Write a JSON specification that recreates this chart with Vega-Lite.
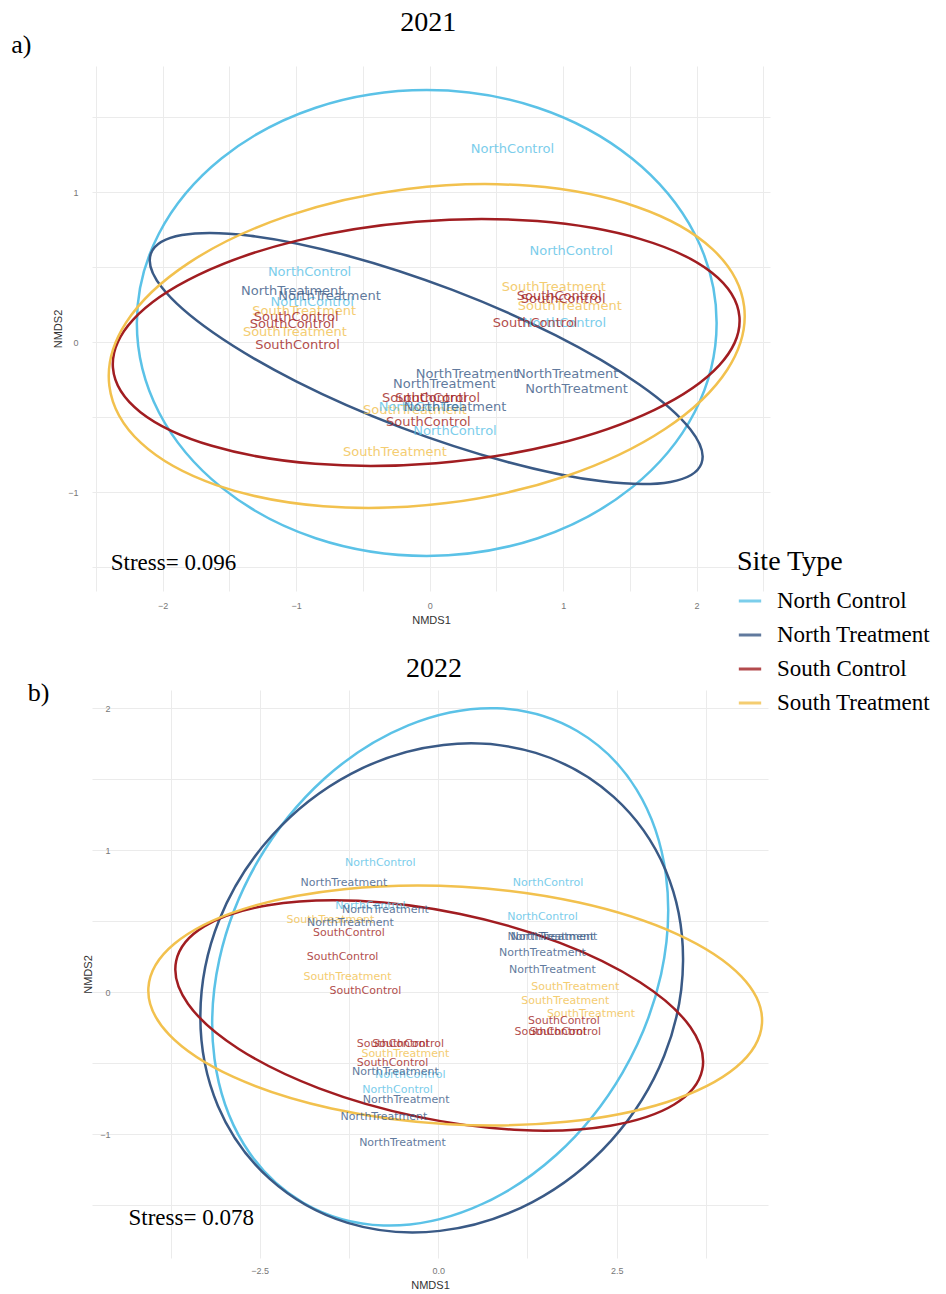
{
"$schema": "https://vega.github.io/schema/vega-lite/v6.json",
"padding": {"left": 11, "top": 8, "right": 0, "bottom": 0},
"bounds": "flush",
"spacing": 99,
"config": {
  "view": {"stroke": null},
  "axis": {"gridColor": "#EBEBEB", "gridWidth": 1, "ticks": false, "domain": false, "labelColor": "#777777", "labelFontSize": 9, "labelFont": "Liberation Sans", "titleFont": "Liberation Sans", "titleFontSize": 11, "titleFontWeight": "normal", "titleColor": "#333333"}
},
"datasets": {
  "ell2021": [
    {"site":"North Control","o":0,"x":2.150,"y":0.127},{"site":"North Control","o":1,"x":1.985,"y":0.722},{"site":"North Control","o":2,"x":1.514,"y":1.225},{"site":"North Control","o":3,"x":0.810,"y":1.562},{"site":"North Control","o":4,"x":-0.022,"y":1.680},{"site":"North Control","o":5,"x":-0.854,"y":1.562},{"site":"North Control","o":6,"x":-1.558,"y":1.225},{"site":"North Control","o":7,"x":-2.029,"y":0.722},{"site":"North Control","o":8,"x":-2.194,"y":0.127},{"site":"North Control","o":9,"x":-2.029,"y":-0.468},{"site":"North Control","o":10,"x":-1.558,"y":-0.971},{"site":"North Control","o":11,"x":-0.854,"y":-1.308},{"site":"North Control","o":12,"x":-0.022,"y":-1.426},{"site":"North Control","o":13,"x":0.810,"y":-1.308},{"site":"North Control","o":14,"x":1.514,"y":-0.971},{"site":"North Control","o":15,"x":1.985,"y":-0.468},
    {"site":"North Treatment","o":0,"x":2.036,"y":-0.811},{"site":"North Treatment","o":1,"x":1.954,"y":-0.583},{"site":"North Treatment","o":2,"x":1.571,"y":-0.283},{"site":"North Treatment","o":3,"x":0.945,"y":0.044},{"site":"North Treatment","o":4,"x":0.170,"y":0.347},{"site":"North Treatment","o":5,"x":-0.635,"y":0.580},{"site":"North Treatment","o":6,"x":-1.345,"y":0.709},{"site":"North Treatment","o":7,"x":-1.856,"y":0.713},{"site":"North Treatment","o":8,"x":-2.088,"y":0.591},{"site":"North Treatment","o":9,"x":-2.006,"y":0.363},{"site":"North Treatment","o":10,"x":-1.623,"y":0.063},{"site":"North Treatment","o":11,"x":-0.997,"y":-0.264},{"site":"North Treatment","o":12,"x":-0.222,"y":-0.567},{"site":"North Treatment","o":13,"x":0.583,"y":-0.800},{"site":"North Treatment","o":14,"x":1.293,"y":-0.929},{"site":"North Treatment","o":15,"x":1.804,"y":-0.933},
    {"site":"South Control","o":0,"x":2.321,"y":0.167},{"site":"South Control","o":1,"x":2.115,"y":0.462},{"site":"South Control","o":2,"x":1.581,"y":0.686},{"site":"South Control","o":3,"x":0.805,"y":0.806},{"site":"South Control","o":4,"x":-0.100,"y":0.802},{"site":"South Control","o":5,"x":-0.993,"y":0.676},{"site":"South Control","o":6,"x":-1.737,"y":0.446},{"site":"South Control","o":7,"x":-2.223,"y":0.148},{"site":"South Control","o":8,"x":-2.373,"y":-0.173},{"site":"South Control","o":9,"x":-2.167,"y":-0.468},{"site":"South Control","o":10,"x":-1.633,"y":-0.692},{"site":"South Control","o":11,"x":-0.857,"y":-0.812},{"site":"South Control","o":12,"x":0.048,"y":-0.808},{"site":"South Control","o":13,"x":0.941,"y":-0.682},{"site":"South Control","o":14,"x":1.685,"y":-0.452},{"site":"South Control","o":15,"x":2.171,"y":-0.154},
    {"site":"South Treatment","o":0,"x":2.356,"y":0.238},{"site":"South Treatment","o":1,"x":2.119,"y":0.619},{"site":"South Treatment","o":2,"x":1.555,"y":0.900},{"site":"South Treatment","o":3,"x":0.753,"y":1.041},{"site":"South Treatment","o":4,"x":-0.169,"y":1.020},{"site":"South Treatment","o":5,"x":-1.069,"y":0.839},{"site":"South Treatment","o":6,"x":-1.807,"y":0.526},{"site":"South Treatment","o":7,"x":-2.275,"y":0.129},{"site":"South Treatment","o":8,"x":-2.400,"y":-0.292},{"site":"South Treatment","o":9,"x":-2.163,"y":-0.673},{"site":"South Treatment","o":10,"x":-1.599,"y":-0.954},{"site":"South Treatment","o":11,"x":-0.797,"y":-1.095},{"site":"South Treatment","o":12,"x":0.125,"y":-1.074},{"site":"South Treatment","o":13,"x":1.025,"y":-0.893},{"site":"South Treatment","o":14,"x":1.763,"y":-0.580},{"site":"South Treatment","o":15,"x":2.231,"y":-0.183}
  ],
  "lab2021": [
    {"site":"South Treatment","label":"SouthTreatment","x":-0.94,"y":0.21},{"site":"South Treatment","label":"SouthTreatment","x":-1.01,"y":0.07},{"site":"South Treatment","label":"SouthTreatment","x":0.93,"y":0.37},{"site":"South Treatment","label":"SouthTreatment","x":1.05,"y":0.24},{"site":"South Treatment","label":"SouthTreatment","x":-0.11,"y":-0.45},{"site":"South Treatment","label":"SouthTreatment","x":-0.26,"y":-0.73},
    {"site":"North Control","label":"NorthControl","x":0.62,"y":1.29},{"site":"North Control","label":"NorthControl","x":1.06,"y":0.61},{"site":"North Control","label":"NorthControl","x":-0.90,"y":0.47},{"site":"North Control","label":"NorthControl","x":-0.88,"y":0.27},{"site":"North Control","label":"NorthControl","x":1.01,"y":0.13},{"site":"North Control","label":"NorthControl","x":-0.07,"y":-0.43},{"site":"North Control","label":"NorthControl","x":0.19,"y":-0.59},
    {"site":"North Treatment","label":"NorthTreatment","x":-1.03,"y":0.34},{"site":"North Treatment","label":"NorthTreatment","x":-0.75,"y":0.31},{"site":"North Treatment","label":"NorthTreatment","x":0.28,"y":-0.21},{"site":"North Treatment","label":"NorthTreatment","x":1.03,"y":-0.21},{"site":"North Treatment","label":"NorthTreatment","x":0.11,"y":-0.28},{"site":"North Treatment","label":"NorthTreatment","x":1.10,"y":-0.31},{"site":"North Treatment","label":"NorthTreatment","x":0.19,"y":-0.43},
    {"site":"South Control","label":"SouthControl","x":-1.00,"y":0.17},{"site":"South Control","label":"SouthControl","x":-1.03,"y":0.12},{"site":"South Control","label":"SouthControl","x":-0.99,"y":-0.02},{"site":"South Control","label":"SouthControl","x":0.97,"y":0.31},{"site":"South Control","label":"SouthControl","x":1.00,"y":0.29},{"site":"South Control","label":"SouthControl","x":0.79,"y":0.13},{"site":"South Control","label":"SouthControl","x":-0.04,"y":-0.37},{"site":"South Control","label":"SouthControl","x":0.06,"y":-0.37},{"site":"South Control","label":"SouthControl","x":-0.01,"y":-0.53}
  ],
  "ell2022": [
    {"site":"North Control","o":0,"x":1.947,"y":1.841},{"site":"North Control","o":1,"x":2.779,"y":1.429},{"site":"North Control","o":2,"x":3.190,"y":0.827},{"site":"North Control","o":3,"x":3.122,"y":0.127},{"site":"North Control","o":4,"x":2.581,"y":-0.566},{"site":"North Control","o":5,"x":1.652,"y":-1.145},{"site":"North Control","o":6,"x":0.476,"y":-1.521},{"site":"North Control","o":7,"x":-0.767,"y":-1.641},{"site":"North Control","o":8,"x":-1.891,"y":-1.481},{"site":"North Control","o":9,"x":-2.723,"y":-1.069},{"site":"North Control","o":10,"x":-3.134,"y":-0.467},{"site":"North Control","o":11,"x":-3.066,"y":0.233},{"site":"North Control","o":12,"x":-2.525,"y":0.926},{"site":"North Control","o":13,"x":-1.596,"y":1.505},{"site":"North Control","o":14,"x":-0.420,"y":1.881},{"site":"North Control","o":15,"x":0.823,"y":2.001},
    {"site":"North Treatment","o":0,"x":2.458,"y":1.377},{"site":"North Treatment","o":1,"x":3.184,"y":0.863},{"site":"North Treatment","o":2,"x":3.430,"y":0.223},{"site":"North Treatment","o":3,"x":3.166,"y":-0.446},{"site":"North Treatment","o":4,"x":2.423,"y":-1.043},{"site":"North Treatment","o":5,"x":1.320,"y":-1.476},{"site":"North Treatment","o":6,"x":0.024,"y":-1.679},{"site":"North Treatment","o":7,"x":-1.268,"y":-1.623},{"site":"North Treatment","o":8,"x":-2.360,"y":-1.313},{"site":"North Treatment","o":9,"x":-3.086,"y":-0.799},{"site":"North Treatment","o":10,"x":-3.332,"y":-0.159},{"site":"North Treatment","o":11,"x":-3.068,"y":0.510},{"site":"North Treatment","o":12,"x":-2.325,"y":1.107},{"site":"North Treatment","o":13,"x":-1.222,"y":1.540},{"site":"North Treatment","o":14,"x":0.074,"y":1.743},{"site":"North Treatment","o":15,"x":1.366,"y":1.687},
    {"site":"South Control","o":0,"x":3.699,"y":-0.545},{"site":"South Control","o":1,"x":3.532,"y":-0.243},{"site":"South Control","o":2,"x":2.827,"y":0.072},{"site":"South Control","o":3,"x":1.697,"y":0.351},{"site":"South Control","o":4,"x":0.308,"y":0.552},{"site":"South Control","o":5,"x":-1.125,"y":0.645},{"site":"South Control","o":6,"x":-2.383,"y":0.614},{"site":"South Control","o":7,"x":-3.278,"y":0.465},{"site":"South Control","o":8,"x":-3.671,"y":0.221},{"site":"South Control","o":9,"x":-3.504,"y":-0.081},{"site":"South Control","o":10,"x":-2.799,"y":-0.396},{"site":"South Control","o":11,"x":-1.669,"y":-0.675},{"site":"South Control","o":12,"x":-0.280,"y":-0.876},{"site":"South Control","o":13,"x":1.153,"y":-0.969},{"site":"South Control","o":14,"x":2.411,"y":-0.938},{"site":"South Control","o":15,"x":3.306,"y":-0.789},
    {"site":"South Treatment","o":0,"x":4.536,"y":-0.216},{"site":"South Treatment","o":1,"x":4.246,"y":0.113},{"site":"South Treatment","o":2,"x":3.345,"y":0.411},{"site":"South Treatment","o":3,"x":1.972,"y":0.633},{"site":"South Treatment","o":4,"x":0.334,"y":0.744},{"site":"South Treatment","o":5,"x":-1.320,"y":0.727},{"site":"South Treatment","o":6,"x":-2.733,"y":0.587},{"site":"South Treatment","o":7,"x":-3.696,"y":0.343},{"site":"South Treatment","o":8,"x":-4.060,"y":0.032},{"site":"South Treatment","o":9,"x":-3.770,"y":-0.297},{"site":"South Treatment","o":10,"x":-2.869,"y":-0.595},{"site":"South Treatment","o":11,"x":-1.496,"y":-0.817},{"site":"South Treatment","o":12,"x":0.143,"y":-0.928},{"site":"South Treatment","o":13,"x":1.796,"y":-0.911},{"site":"South Treatment","o":14,"x":3.209,"y":-0.771},{"site":"South Treatment","o":15,"x":4.172,"y":-0.527}
  ],
  "lab2022": [
    {"site":"South Treatment","label":"SouthTreatment","x":-1.51,"y":0.51},{"site":"South Treatment","label":"SouthTreatment","x":-1.27,"y":0.11},{"site":"South Treatment","label":"SouthTreatment","x":1.92,"y":0.04},{"site":"South Treatment","label":"SouthTreatment","x":1.78,"y":-0.06},{"site":"South Treatment","label":"SouthTreatment","x":2.14,"y":-0.15},{"site":"South Treatment","label":"SouthTreatment","x":-0.46,"y":-0.43},
    {"site":"North Control","label":"NorthControl","x":-0.81,"y":0.91},{"site":"North Control","label":"NorthControl","x":1.54,"y":0.77},{"site":"North Control","label":"NorthControl","x":1.46,"y":0.53},{"site":"North Control","label":"NorthControl","x":-0.95,"y":0.61},{"site":"North Control","label":"NorthControl","x":-0.39,"y":-0.58},{"site":"North Control","label":"NorthControl","x":-0.57,"y":-0.69},
    {"site":"North Treatment","label":"NorthTreatment","x":-1.32,"y":0.77},{"site":"North Treatment","label":"NorthTreatment","x":-0.74,"y":0.58},{"site":"North Treatment","label":"NorthTreatment","x":-1.23,"y":0.49},{"site":"North Treatment","label":"NorthTreatment","x":1.62,"y":0.39},{"site":"North Treatment","label":"NorthTreatment","x":1.58,"y":0.39},{"site":"North Treatment","label":"NorthTreatment","x":1.46,"y":0.28},{"site":"North Treatment","label":"NorthTreatment","x":1.60,"y":0.16},{"site":"North Treatment","label":"NorthTreatment","x":-0.60,"y":-0.56},{"site":"North Treatment","label":"NorthTreatment","x":-0.45,"y":-0.76},{"site":"North Treatment","label":"NorthTreatment","x":-0.76,"y":-0.88},{"site":"North Treatment","label":"NorthTreatment","x":-0.50,"y":-1.06},
    {"site":"South Control","label":"SouthControl","x":-1.25,"y":0.42},{"site":"South Control","label":"SouthControl","x":-1.34,"y":0.25},{"site":"South Control","label":"SouthControl","x":-1.02,"y":0.01},{"site":"South Control","label":"SouthControl","x":1.76,"y":-0.20},{"site":"South Control","label":"SouthControl","x":1.57,"y":-0.28},{"site":"South Control","label":"SouthControl","x":1.78,"y":-0.28},{"site":"South Control","label":"SouthControl","x":-0.64,"y":-0.36},{"site":"South Control","label":"SouthControl","x":-0.42,"y":-0.36},{"site":"South Control","label":"SouthControl","x":-0.64,"y":-0.50}
  ]
},
"vconcat": [
  {
    "width": 678, "height": 525,
    "encoding": {
      "x": {"field": "x", "type": "quantitative", "scale": {"domain": [-2.53, 2.55], "nice": false, "zero": false},
            "axis": {"title": "NMDS1", "values": [-2.5,-2,-1.5,-1,-0.5,0,0.5,1,1.5,2,2.5], "labelExpr": "datum.value % 1 == 0 ? format(datum.value, 'd') : ''", "labelPadding": 10, "titlePadding": 4}},
      "y": {"field": "y", "type": "quantitative", "scale": {"domain": [-1.66, 1.84], "nice": false, "zero": false},
            "axis": {"title": "NMDS2", "values": [-1.5,-1,-0.5,0,0.5,1,1.5], "labelExpr": "datum.value % 1 == 0 ? format(datum.value, 'd') : ''", "labelPadding": 14, "titlePadding": 4}}
    },
    "layer": [
      {
        "data": {"name": "ell2021"},
        "mark": {"type": "line", "interpolate": "cardinal-closed", "strokeWidth": 2.5},
        "encoding": {
          "color": {"field": "site", "type": "nominal",
            "scale": {"domain": ["North Control","North Treatment","South Control","South Treatment"], "range": ["#5BC2E7","#3A5A86","#A11D21","#F2C14E"]},
            "legend": {"title": "Site Type", "orient": "none", "legendX": 645, "legendY": 482, "symbolType": "stroke", "symbolSize": 500, "symbolStrokeWidth": 3, "titleFont": "Liberation Serif", "titleFontSize": 28, "titleFontWeight": "normal", "titleColor": "#000000", "labelFont": "Liberation Serif", "labelFontSize": 23, "labelColor": "#000000", "rowPadding": 9, "titlePadding": 12, "labelOffset": 14}},
          "order": {"field": "o", "type": "quantitative"}
        }
      },
      {
        "data": {"name": "lab2021"},
        "mark": {"type": "text", "font": "DejaVu Sans", "fontSize": 13, "opacity": 0.8},
        "encoding": {
          "color": {"field": "site", "type": "nominal", "scale": {"domain": ["North Control","North Treatment","South Control","South Treatment"], "range": ["#5BC2E7","#3A5A86","#A11D21","#F2C14E"]}},
          "text": {"field": "label"}
        }
      },
      {
        "data": {"values": [{"x": -1.92, "y": -1.47, "t": "Stress= 0.096"}]},
        "mark": {"type": "text", "font": "Liberation Serif", "fontSize": 23, "color": "#000000"},
        "encoding": {"text": {"field": "t"}}
      },
      {
        "data": {"values": [{"x": -3.06, "y": 1.98, "t": "a)"}]},
        "mark": {"type": "text", "font": "Liberation Serif", "fontSize": 26, "color": "#000000"},
        "encoding": {"text": {"field": "t"}}
      },
      {
        "data": {"values": [{"x": -0.01, "y": 2.127, "t": "2021"}]},
        "mark": {"type": "text", "font": "Liberation Serif", "fontSize": 28, "color": "#000000"},
        "encoding": {"text": {"field": "t"}}
      }
    ]
  },
  {
    "width": 676, "height": 568,
    "encoding": {
      "x": {"field": "x", "type": "quantitative", "scale": {"domain": [-4.85, 4.62], "nice": false, "zero": false},
            "axis": {"title": "NMDS1", "values": [-3.75,-2.5,-1.25,0,1.25,2.5,3.75], "labelExpr": "datum.value == 0 ? '0.0' : (abs(datum.value) == 2.5 ? format(datum.value, '.1f') : '')", "labelPadding": 8, "titlePadding": 4}},
      "y": {"field": "y", "type": "quantitative", "scale": {"domain": [-1.87, 2.13], "nice": false, "zero": false},
            "axis": {"title": "NMDS2", "values": [-1.5,-1,-0.5,0,0.5,1,1.5,2], "labelExpr": "datum.value % 1 == 0 ? format(datum.value, 'd') : ''", "labelPadding": 4, "titlePadding": 6, "offset": -22}}
    },
    "layer": [
      {
        "data": {"name": "ell2022"},
        "mark": {"type": "line", "interpolate": "cardinal-closed", "strokeWidth": 2.5},
        "encoding": {
          "color": {"field": "site", "type": "nominal", "scale": {"domain": ["North Control","North Treatment","South Control","South Treatment"], "range": ["#5BC2E7","#3A5A86","#A11D21","#F2C14E"]}},
          "order": {"field": "o", "type": "quantitative"}
        }
      },
      {
        "data": {"name": "lab2022"},
        "mark": {"type": "text", "font": "DejaVu Sans", "fontSize": 11, "opacity": 0.8},
        "encoding": {
          "color": {"field": "site", "type": "nominal", "scale": {"domain": ["North Control","North Treatment","South Control","South Treatment"], "range": ["#5BC2E7","#3A5A86","#A11D21","#F2C14E"]}},
          "text": {"field": "label"}
        }
      },
      {
        "data": {"values": [{"x": -3.46, "y": -1.59, "t": "Stress= 0.078"}]},
        "mark": {"type": "text", "font": "Liberation Serif", "fontSize": 23, "color": "#000000"},
        "encoding": {"text": {"field": "t"}}
      },
      {
        "data": {"values": [{"x": -5.60, "y": 2.11, "t": "b)"}]},
        "mark": {"type": "text", "font": "Liberation Serif", "fontSize": 26, "color": "#000000"},
        "encoding": {"text": {"field": "t"}}
      },
      {
        "data": {"values": [{"x": -0.06, "y": 2.28, "t": "2022"}]},
        "mark": {"type": "text", "font": "Liberation Serif", "fontSize": 28, "color": "#000000"},
        "encoding": {"text": {"field": "t"}}
      }
    ]
  }
]
}
